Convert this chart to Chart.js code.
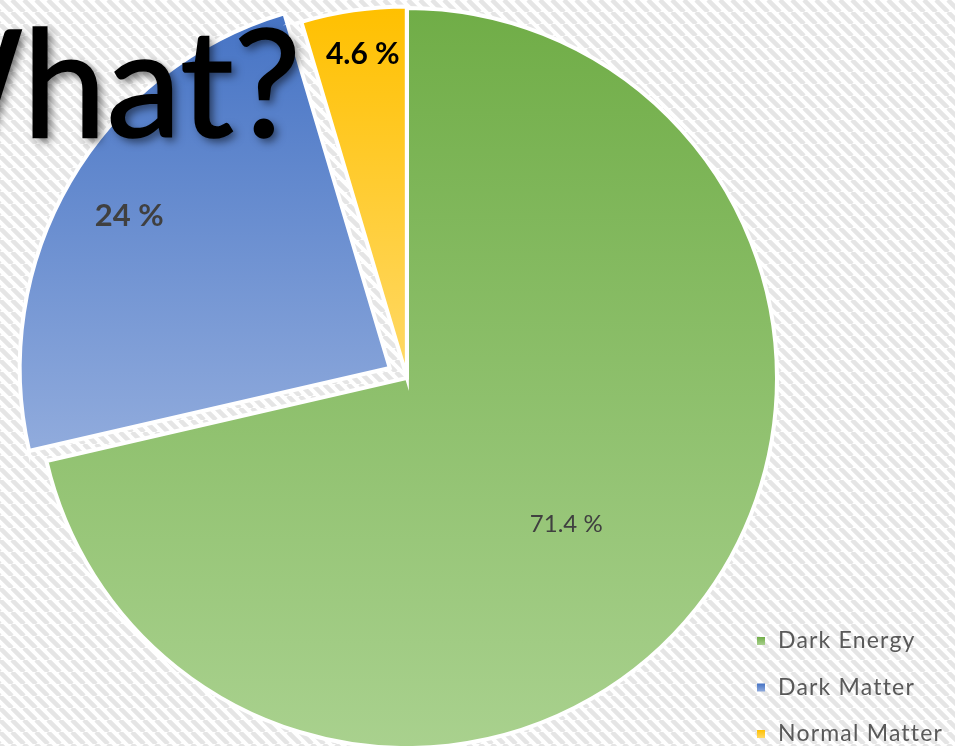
<!DOCTYPE html>
<html>
<head>
<meta charset="utf-8">
<script src="https://cdn.jsdelivr.net/npm/chart.js@4.4.1/dist/chart.umd.min.js"></script>
<style>
  html, body { margin: 0; padding: 0; background: #fff; }
  #wrap { width: 955px; height: 746px; position: relative; overflow: hidden; }
</style>
</head>
<body>
<div id="wrap"><canvas id="universeChart" width="955" height="746"></canvas></div>
<script>
const components = ["Dark Energy", "Dark Matter", "Normal Matter"];
const shares = [71.4, 24, 4.6];
const headline = "What?";

// Office style gradient: accent colour on top, 40% lighter at the bottom
const topColors = ["#70AD47", "#4472C4", "#FFC000"];
const bottomColors = ["#A9D18E", "#8FAADC", "#FFD966"];
// how far each slice is pulled out, in pixels
const explode = [0, 20, 1.5];
const pieRadius = 370;

// label placement: fraction of radius from the slice tip, small angle nudge in degrees
const labelStyles = [
  { raio: 0.584, giro: 4, font: "24px Lato", color: "#404040" },
  { raio: 0.815, giro: 0, font: "bold 31px Lato", color: "#404040" },
  { raio: 0.878, giro: 0.5, font: "bold 30px Lato", color: "#000000" }
];

const total = shares.reduce((a, b) => a + b, 0);

function sliceAngles(i) {
  const before = shares.slice(0, i).reduce((a, b) => a + b, 0);
  const start = -Math.PI / 2 + 2 * Math.PI * before / total;
  const end = start + 2 * Math.PI * shares[i] / total;
  return { start, end, mid: (start + end) / 2 };
}

// Chart.js moves an arc by offset/4 * (2 - sin(circumference)), so turn pixels into its offset
const arcOffsets = shares.map((v, i) => {
  const circ = 2 * Math.PI * v / total;
  const fix = 1 - Math.sin(Math.min(Math.PI, circ));
  return explode[i] * 4 / (1 + fix);
});

function sliceGradient(context) {
  const chart = context.chart;
  const i = context.dataIndex;
  const area = chart.chartArea;
  if (!area) return topColors[i];

  const { start, end, mid } = sliceAngles(i);
  const cy = (area.top + area.bottom) / 2 + Math.sin(mid) * explode[i];

  const ys = [cy, cy + Math.sin(start) * pieRadius, cy + Math.sin(end) * pieRadius];
  [-Math.PI / 2, Math.PI / 2, 3 * Math.PI / 2].forEach(a => {
    if (a >= start - 1e-9 && a <= end + 1e-9) ys.push(cy + Math.sin(a) * pieRadius);
  });
  const g = chart.ctx.createLinearGradient(0, Math.min(...ys), 0, Math.max(...ys));
  g.addColorStop(0, topColors[i]);
  g.addColorStop(1, bottomColors[i]);
  return g;
}

function makeHatch() {
  const tile = document.createElement("canvas");
  tile.width = 12;
  tile.height = 12;
  const t = tile.getContext("2d");
  t.fillStyle = "#ffffff";
  t.fillRect(0, 0, 12, 12);
  t.strokeStyle = "#e5e5e5";
  t.lineWidth = 4.5;
  [-12, 0, 12].forEach(c => {
    t.beginPath();
    t.moveTo(c, 0);
    t.lineTo(c + 12, 12);
    t.stroke();
  });
  return tile;
}

const backgroundPlugin = {
  id: "hatchBackground",
  beforeDraw(chart) {
    const ctx = chart.ctx;
    ctx.save();
    ctx.fillStyle = ctx.createPattern(makeHatch(), "repeat");
    ctx.fillRect(0, 0, chart.width, chart.height);
    ctx.restore();
  }
};

const labelPlugin = {
  id: "sliceLabels",
  afterDatasetsDraw(chart) {
    const ctx = chart.ctx;
    const meta = chart.getDatasetMeta(0);
    meta.data.forEach((arc, i) => {
      const s = labelStyles[i];
      const { x, y, startAngle, endAngle, outerRadius } =
        arc.getProps(["x", "y", "startAngle", "endAngle", "outerRadius"], true);
      const mid = (startAngle + endAngle) / 2;
      const tipX = x + Math.cos(mid) * explode[i];
      const tipY = y + Math.sin(mid) * explode[i];
      const ang = mid + s.giro * Math.PI / 180;
      ctx.save();
      ctx.font = s.font;
      ctx.fillStyle = s.color;
      ctx.textAlign = "center";
      ctx.textBaseline = "middle";
      ctx.fillText(shares[i] + " %",
        tipX + Math.cos(ang) * outerRadius * s.raio,
        tipY + Math.sin(ang) * outerRadius * s.raio);
      ctx.restore();
    });
  }
};

const overlayPlugin = {
  id: "headlineAndLegend",
  afterDraw(chart) {
    const ctx = chart.ctx;

    // big headline, partly off the left edge
    ctx.save();
    ctx.font = "150px Lato";
    ctx.textAlign = "right";
    ctx.textBaseline = "alphabetic";
    ctx.fillStyle = "#000000";
    ctx.shadowColor = "rgba(0, 0, 0, 0.55)";
    ctx.shadowBlur = 8;
    ctx.shadowOffsetX = 4;
    ctx.shadowOffsetY = 4;
    ctx.fillText(headline, 301, 137);
    // a thin outline without shadow so the strokes come out a bit heavier
    ctx.shadowColor = "transparent";
    ctx.strokeStyle = "#000000";
    ctx.lineWidth = 1.6;
    ctx.strokeText(headline, 301, 137);
    ctx.restore();

    // legend, bottom right
    ctx.save();
    ctx.font = "23px Lato";
    ctx.letterSpacing = "1.2px";
    ctx.textAlign = "left";
    ctx.textBaseline = "middle";
    components.forEach((name, i) => {
      const cy = 641 + i * 46.5;
      const g = ctx.createLinearGradient(0, cy - 4, 0, cy + 4);
      g.addColorStop(0, topColors[i]);
      g.addColorStop(1, bottomColors[i]);
      ctx.fillStyle = g;
      ctx.fillRect(757, cy - 4, 8, 8);
      ctx.fillStyle = "#595959";
      ctx.fillText(name, 778, cy);
    });
    ctx.restore();
  }
};

new Chart(document.getElementById("universeChart"), {
  type: "pie",
  data: {
    labels: components,
    datasets: [{
      data: shares,
      backgroundColor: sliceGradient,
      borderColor: "#ffffff",
      borderWidth: 4,
      borderJoinStyle: "miter",
      offset: arcOffsets,
      radius: pieRadius,
      clip: false
    }]
  },
  options: {
    responsive: false,
    animation: false,
    events: [],
    layout: { padding: { left: 0, right: 141, top: 10, bottom: 0 } },
    plugins: {
      legend: { display: false },
      tooltip: { enabled: false }
    }
  },
  plugins: [backgroundPlugin, labelPlugin, overlayPlugin]
});
</script>
</body>
</html>
